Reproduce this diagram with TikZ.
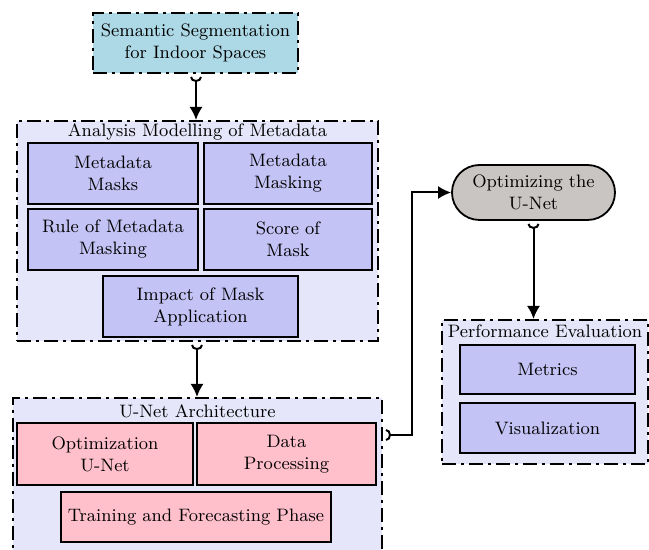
\documentclass[tikz,border=0pt]{standalone}
\usetikzlibrary{arrows.meta,shapes.misc,calc}
\definecolor{topblue}{RGB}{173,216,230}
\definecolor{panel}{RGB}{230,230,250}
\definecolor{boxblue}{RGB}{195,195,245}
\definecolor{boxpink}{RGB}{255,192,203}
\definecolor{stone}{RGB}{201,197,195}
\tikzset{
  dashdot/.style={line width=1pt,dash pattern=on 7pt off 2.5pt on 1.5pt off 2.5pt},
  panelbox/.style={draw,dashdot,fill=panel,rectangle,inner sep=0pt},
  topbox/.style={draw,dashdot,fill=topblue,rectangle,align=center,inner sep=0pt},
  bluebox/.style={draw,line width=0.9pt,fill=boxblue,rectangle,align=center,inner sep=0pt},
  pinkbox/.style={draw,line width=0.9pt,fill=boxpink,rectangle,align=center,inner sep=0pt},
  stadium/.style={draw,line width=0.9pt,fill=stone,rounded rectangle,align=center,inner sep=0pt},
  title/.style={inner sep=0pt,align=center},
  flow/.style={line width=1pt,{Arc Barb[reversed,length=2.5pt,width=6pt]}-{Latex[length=6.5pt,width=6.5pt]},shorten <=1.5pt},
}
\begin{document}
\begin{tikzpicture}[x=0.5pt,y=-0.5pt,font=\fontsize{9}{11}\selectfont]
\useasboundingbox (0,0) rectangle (649,550);
\clip (0,0) rectangle (649,550);

% top source
\node[topbox,minimum width=102.5pt,minimum height=30pt] (seg) at (195.5,43)
  {Semantic Segmentation\\for Indoor Spaces};

% metadata analysis panel
\node[panelbox,minimum width=180.5pt,minimum height=110pt] (meta) at (197.5,231) {};
\node[title] (metat) at (197.5,132) {Analysis Modelling of Metadata};
\node[bluebox,minimum width=85pt,minimum height=30.5pt] (mm) at (113,173.5) {Metadata\\Masks};
\node[bluebox,minimum width=84pt,minimum height=30.5pt] (mk) at (288,173.5) {Metadata\\Masking};
\node[bluebox,minimum width=85pt,minimum height=30.5pt] (rule) at (113,239.5) {Rule of Metadata\\Masking};
\node[bluebox,minimum width=84pt,minimum height=30.5pt] (score) at (288,239.5) {Score of\\Mask};
\node[bluebox,minimum width=97.5pt,minimum height=30.5pt] (impact) at (200.5,306.5) {Impact of Mask\\Application};

% U-Net panel
\node[panelbox,minimum width=184.5pt,minimum height=80pt] (unet) at (197.5,478) {};
\node[title] (unett) at (197.5,411) {U-Net Architecture};
\node[pinkbox,minimum width=88pt,minimum height=31pt] (opt) at (105,454) {Optimization\\U-Net};
\node[pinkbox,minimum width=89.5pt,minimum height=31pt] (data) at (286.5,454) {Data\\Processing};
\node[pinkbox,minimum width=135pt,minimum height=25pt] (train) at (196,517) {Training and Forecasting Phase};

% optimisation step
\node[stadium,minimum width=81.5pt,minimum height=27.5pt] (optim) at (533.5,192.5) {Optimizing the\\U-Net};

% evaluation panel
\node[panelbox,minimum width=103pt,minimum height=72pt] (perf) at (545,392) {};
\node[title] (perft) at (545,331) {Performance Evaluation};
\node[bluebox,minimum width=87.5pt,minimum height=24.5pt] (metrics) at (547.5,369.5) {Metrics};
\node[bluebox,minimum width=87.5pt,minimum height=25pt] (vis) at (547.5,428) {Visualization};

% connectors
\draw[flow] (seg.south -| 196,0) -- (meta.north -| 196,0);
\draw[flow] (meta.south -| 197,0) -- (unet.north -| 197,0);
\coordinate (bend) at (412,435);
\draw[flow] (unet.east |- bend) -- (bend) |- (optim.west);
\draw[flow] (optim.south) -- (perf.north -| optim.south);
\end{tikzpicture}
\end{document}
